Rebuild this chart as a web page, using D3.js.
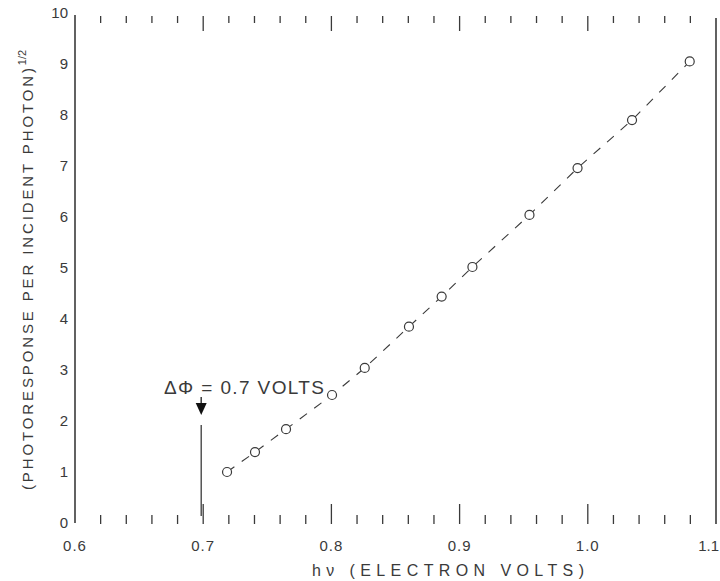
<!DOCTYPE html>
<html><head><meta charset="utf-8">
<script src="https://cdn.jsdelivr.net/npm/d3@7"></script>
<style>body{margin:0;background:#fff}svg{display:block}</style>
</head><body>
<svg id="c" width="720" height="581"></svg>
<script>
// photon energy (eV) and square-root photoresponse (arbitrary units)
const energy = [0.7186, 0.7404, 0.7646, 0.8005, 0.826, 0.8605, 0.886, 0.910, 0.9545, 0.992, 1.0345, 1.0795];
const response = [1.00, 1.39, 1.84, 2.51, 3.04, 3.85, 4.44, 5.02, 6.04, 6.96, 7.90, 9.05];
const xTicks = [0.6, 0.7, 0.8, 0.9, 1.0, 1.1];
const xTickLabels = ["0.6", "0.7", "0.8", "0.9", "1.0", "1.1"];
const yTicks = [0, 1, 2, 3, 4, 5, 6, 7, 8, 9, 10];
const threshold = [0.7];
const annotation = ["ΔΦ = 0.7 VOLTS"];
const xTitle = "hν (ELECTRON VOLTS)";
const yTitle = "(PHOTORESPONSE PER INCIDENT PHOTON)";
const yTitleSup = "1/2";

const svg = d3.select("#c");
const x = d3.scaleLinear().domain([0.6, 1.1]).range([75, 716]);
const y = d3.scaleLinear().domain([0, 10]).range([523, 13]);
const ink = "#3a3a3a";
const font = "'Liberation Sans', Arial, sans-serif";

// frame: left & right vertical lines
svg.append("line").attr("x1", x(0.6)).attr("x2", x(0.6)).attr("y1", y(10) + 2).attr("y2", y(0))
  .attr("stroke", ink).attr("stroke-width", 1.6);
svg.append("line").attr("x1", x(1.1)).attr("x2", x(1.1)).attr("y1", y(10) + 5).attr("y2", y(0) + 1)
  .attr("stroke", ink).attr("stroke-width", 1.6);

// minor ticks every 0.02 (top and bottom, pointing inward), majors at 0.1
const minor = d3.range(31, 55).map(i => i / 50).filter(v => v > 0.6 && v < 1.1);
const isMajor = v => Math.abs(v * 10 - Math.round(v * 10)) < 1e-6;
const topG = svg.append("g");
topG.selectAll("line").data(minor).join("line")
  .attr("x1", d => x(d)).attr("x2", d => x(d))
  .attr("y1", y(10) + 3).attr("y2", d => y(10) + (isMajor(d) ? 18 : 10))
  .attr("stroke", ink).attr("stroke-width", 1.3);
const botG = svg.append("g");
botG.selectAll("line").data(minor).join("line")
  .attr("x1", d => x(d)).attr("x2", d => x(d))
  .attr("y1", y(0) + 1).attr("y2", d => y(0) + 1 - (isMajor(d) ? 20 : 9))
  .attr("stroke", ink).attr("stroke-width", 1.3);

// x tick labels (last one kept inside the page edge)
const lastX = xTicks.length - 1;
svg.append("g").selectAll("text").data(xTicks).join("text")
  .attr("x", (d, i) => i === lastX ? 719 : x(d)).attr("y", 551)
  .attr("text-anchor", (d, i) => i === lastX ? "end" : "middle")
  .attr("font-family", font).attr("font-size", 15).attr("fill", ink)
  .attr("letter-spacing", (d, i) => i === lastX ? 0 : 1)
  .text((d, i) => xTickLabels[i]);

// y tick labels
svg.append("g").selectAll("text").data(yTicks).join("text")
  .attr("x", 68).attr("y", d => y(d) + 5).attr("text-anchor", "end")
  .attr("font-family", font).attr("font-size", 15).attr("fill", ink)
  .text(d => d);

// x title
svg.append("text").attr("x", 312).attr("y", 576)
  .attr("font-family", font).attr("font-size", 16).attr("fill", ink)
  .attr("textLength", 272).attr("lengthAdjust", "spacing")
  .text(xTitle);

// y title (rotated)
const yt = svg.append("text").attr("transform", "translate(33,490) rotate(-90)")
  .attr("font-family", font).attr("font-size", 15).attr("fill", ink);
yt.append("tspan").attr("textLength", 422).attr("lengthAdjust", "spacing").text(yTitle);
yt.append("tspan").attr("dy", -7).attr("font-size", 11).text(yTitleSup);

// dashed fit line through data
const pts = energy.map((e, i) => [e, response[i]]);
svg.append("path").datum(pts)
  .attr("d", d3.line().x(d => x(d[0])).y(d => y(d[1])))
  .attr("fill", "none").attr("stroke", ink).attr("stroke-width", 1.1)
  .attr("stroke-dasharray", "9,9");

// data points: open circles
svg.append("g").selectAll("circle").data(pts).join("circle")
  .attr("cx", d => x(d[0])).attr("cy", d => y(d[1])).attr("r", 4.5)
  .attr("fill", "#fff").attr("stroke", ink).attr("stroke-width", 1.2);

// threshold marker: vertical line + arrow + label
const tx = x(threshold[0]) - 2;
svg.append("line").attr("x1", tx).attr("x2", tx).attr("y1", 425).attr("y2", 516)
  .attr("stroke", ink).attr("stroke-width", 1.3);
svg.append("line").attr("x1", tx).attr("x2", tx).attr("y1", 397).attr("y2", 405)
  .attr("stroke", ink).attr("stroke-width", 1.5);
svg.append("path").attr("d", `M${tx - 5.5},403 L${tx + 5.5},403 L${tx},415 Z`).attr("fill", "#111");
svg.append("text").attr("x", 164).attr("y", 394)
  .attr("font-family", font).attr("font-size", 19).attr("fill", ink)
  .attr("textLength", 160).attr("lengthAdjust", "spacing")
  .text(annotation[0]);
</script>
</body></html>
